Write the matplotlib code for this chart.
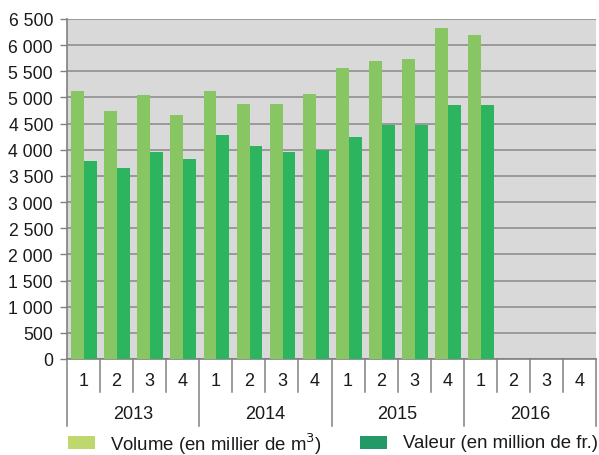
import matplotlib

matplotlib.use("Agg")

import matplotlib.patches as mpatches  # noqa: E402
import matplotlib.pyplot as plt  # noqa: E402

plt.rcParams["font.family"] = ["Liberation Sans", "DejaVu Sans"]

years = ["2013", "2014", "2015", "2016"]
quarters = ["1", "2", "3", "4"]
volume = [5120, 4740, 5040, 4660, 5120, 4870, 4870, 5070,
          5560, 5690, 5735, 6330, 6200, None, None, None]
valeur = [3780, 3650, 3950, 3820, 4290, 4070, 3950, 4000,
          4250, 4480, 4480, 4860, 4860, None, None, None]
yticks = list(range(0, 6501, 500))
legend_labels = ["Volume (en millier de m$^3$)", "Valeur (en million de fr.)"]

LIGHT = "#88C664"
DARK = "#2DB45F"
TXT = "#1a1a1a"
GRID = "#9a9a9a"

fig = plt.figure(figsize=(5.99, 4.56), dpi=100)
fig.patch.set_facecolor("white")
ax = fig.add_axes((67 / 599, 1 - 360 / 456, 529 / 599, 340 / 456))
ax.set_facecolor("#D9D9D9")

n = len(years) * len(quarters)
xs = list(range(n))
w = 0.39
for i in xs:
    if volume[i] is not None:
        ax.bar(i - w / 2 + 0.02, volume[i], width=w, color=LIGHT, zorder=3)
    if valeur[i] is not None:
        ax.bar(i + w / 2 + 0.02, valeur[i], width=w, color=DARK, zorder=3)

ax.set_xlim(-0.5, n - 0.5)
ax.set_ylim(0, 6500)
ax.set_yticks(yticks)
ax.set_yticklabels([f"{v:,}".replace(",", " ") for v in yticks], fontsize=12.7, color=TXT)
ax.yaxis.grid(True, color=GRID, linewidth=1.4, zorder=1)
ax.set_axisbelow(True)
ax.tick_params(axis="y", length=5, width=1, color="#808080", pad=5)
ax.set_xticks([])
for s in ("top", "right"):
    ax.spines[s].set_visible(False)
ax.spines["left"].set_color("#808080")
ax.spines["bottom"].set_color("#808080")
ax.spines["left"].set_linewidth(1.2)
ax.spines["bottom"].set_linewidth(1.2)

# category axis: quarters and years below the plot
tr = ax.get_xaxis_transform()
for k in range(n + 1):
    x = k - 0.5
    bottom = -0.197 if k % 4 == 0 else -0.097
    ax.plot([x, x], [0, bottom], transform=tr, color="#808080", lw=1.1, clip_on=False)
for k in range(n):
    ax.text(k, -0.062, quarters[k % 4], transform=tr, ha="center", va="center",
            fontsize=13, color=TXT)
for j, yr in enumerate(years):
    ax.text(j * 4 + 1.5, -0.16, yr, transform=tr, ha="center", va="center",
            fontsize=13, color=TXT)

# legend
fig.patches.append(mpatches.Rectangle((68 / 599, 1 - 450 / 456), 27 / 599, 13 / 456,
                                      transform=fig.transFigure, facecolor="#BFD86E",
                                      edgecolor="none"))
fig.text(110 / 599, 1 - 444 / 456, legend_labels[0], ha="left", va="center",
         fontsize=13.4, color=TXT)
fig.patches.append(mpatches.Rectangle((360 / 599, 1 - 450 / 456), 27 / 599, 13 / 456,
                                      transform=fig.transFigure, facecolor="#229966",
                                      edgecolor="none"))
fig.text(403 / 599, 1 - 444 / 456, legend_labels[1], ha="left", va="center",
         fontsize=13.4, color=TXT)

fig.savefig("out.png", dpi=100)
